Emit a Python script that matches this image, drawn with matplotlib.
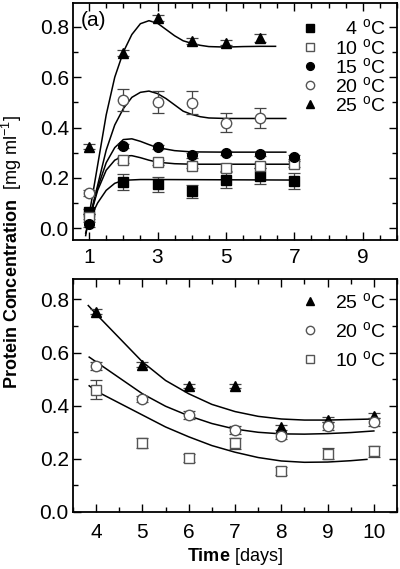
import numpy as np
import matplotlib
matplotlib.use("Agg")
import matplotlib.pyplot as plt
from matplotlib.ticker import MultipleLocator

plt.rcParams['font.family'] = ['Liberation Sans', 'DejaVu Sans']
plt.rcParams['mathtext.fontset'] = 'custom'
plt.rcParams['mathtext.rm'] = 'Liberation Sans'
plt.rcParams['mathtext.bf'] = 'Liberation Sans:bold'
plt.rcParams['mathtext.it'] = 'Liberation Sans:italic'

# ---- panel (a): data points ----
days_a = [1, 2, 3, 4, 5, 6, 7]
c4 = [0.064, 0.183, 0.175, 0.146, 0.191, 0.207, 0.188]
c4_err = [0.01, 0.032, 0.03, 0.026, 0.032, 0.031, 0.031]
c10 = [0.045, 0.27, 0.262, 0.248, 0.24, 0.247, 0.255]
c10_err = [0.01, 0.012, 0.01, 0.01, 0.015, 0.01, 0.012]
c15 = [0.016, 0.325, 0.321, 0.289, 0.299, 0.294, 0.281]
c15_err = [0.01, 0.008, 0.008, 0.01, 0.008, 0.008, 0.008]
days_a6 = [1, 2, 3, 4, 5, 6]
c20 = [0.138, 0.509, 0.502, 0.498, 0.419, 0.437]
c20_err = [0.012, 0.043, 0.044, 0.046, 0.038, 0.04]
c25 = [0.323, 0.697, 0.835, 0.745, 0.738, 0.757]
c25_err = [0.01, 0.012, 0.012, 0.012, 0.01, 0.015]

# ---- panel (a): fitted curves ----
fx25 = [0.9, 1.0, 1.25, 1.5, 1.75, 2.0, 2.25, 2.5, 2.75, 3.0, 3.25, 3.5, 3.75, 4.0, 4.25, 4.5, 5.0, 5.5, 6.0, 6.45]
fy25 = [-0.03, 0.05, 0.25, 0.45, 0.60, 0.70, 0.77, 0.813, 0.825, 0.815, 0.79, 0.765, 0.745, 0.735, 0.727, 0.722, 0.72, 0.722, 0.723, 0.723]
fx20 = [0.9, 1.0, 1.25, 1.5, 1.75, 2.0, 2.25, 2.5, 2.75, 3.0, 3.25, 3.5, 3.75, 4.0, 4.25, 4.5, 5.0, 6.0, 6.75]
fy20 = [-0.02, 0.03, 0.17, 0.31, 0.41, 0.475, 0.52, 0.54, 0.545, 0.535, 0.515, 0.49, 0.465, 0.452, 0.443, 0.438, 0.436, 0.436, 0.436]
fx15 = [0.95, 1.0, 1.25, 1.5, 1.75, 2.0, 2.25, 2.5, 2.75, 3.0, 3.5, 4.0, 5.0, 6.0, 6.75]
fy15 = [0.0, 0.03, 0.16, 0.26, 0.32, 0.352, 0.355, 0.345, 0.332, 0.32, 0.308, 0.303, 0.302, 0.302, 0.302]
fx10 = [0.95, 1.0, 1.25, 1.5, 1.75, 2.0, 2.25, 2.5, 2.75, 3.0, 3.5, 4.0, 5.0, 6.0, 6.95]
fy10 = [0.0, 0.03, 0.15, 0.23, 0.27, 0.287, 0.288, 0.28, 0.27, 0.262, 0.256, 0.254, 0.254, 0.254, 0.254]
fx4 = [0.95, 1.0, 1.25, 1.5, 1.75, 2.0, 2.5, 3.0, 5.0, 7.0]
fy4 = [0.0, 0.03, 0.10, 0.15, 0.178, 0.19, 0.193, 0.193, 0.192, 0.191]

# ---- panel (b): data points ----
days_b = [4, 5, 6, 7, 8, 9, 10]
b25 = [0.754, 0.554, 0.475, 0.475, 0.318, 0.347, 0.363]
b25_err = [0.01, 0.01, 0.008, 0.008, 0.01, 0.01, 0.01]
b20 = [0.550, 0.425, 0.365, 0.307, 0.287, 0.322, 0.338]
b20_err = [0.015, 0.012, 0.015, 0.015, 0.012, 0.015, 0.015]
b10 = [0.460, 0.259, 0.203, 0.259, 0.155, 0.219, 0.228]
b10_err = [0.036, 0.02, 0.015, 0.021, 0.015, 0.02, 0.02]

# ---- panel (b): fitted curves ----
gx25 = [3.83, 4.0, 4.5, 5.0, 5.5, 6.0, 6.5, 7.0, 7.5, 8.0, 8.5, 9.0, 9.5, 10.0, 10.1]
gy25 = [0.777, 0.745, 0.655, 0.565, 0.495, 0.445, 0.405, 0.378, 0.36, 0.35, 0.346, 0.346, 0.348, 0.35, 0.35]
gx20 = [3.85, 4.0, 4.5, 5.0, 5.5, 6.0, 6.5, 7.0, 7.5, 8.0, 8.5, 9.0, 9.5, 10.0]
gy20 = [0.583, 0.565, 0.505, 0.445, 0.398, 0.362, 0.333, 0.312, 0.300, 0.294, 0.293, 0.295, 0.299, 0.305]
gx10 = [3.85, 4.0, 4.5, 5.0, 5.5, 6.0, 6.5, 7.0, 7.5, 8.0, 8.5, 9.0, 9.5, 9.85]
gy10 = [0.475, 0.455, 0.41, 0.365, 0.32, 0.283, 0.25, 0.225, 0.205, 0.192, 0.187, 0.188, 0.193, 0.198]

deg = r'$^\mathregular{o}$C'
fs = 15      # tick labels
lfs = 14     # legend
afs = 13     # axis labels

fig = plt.figure(figsize=(4.0, 5.69), dpi=100)
ax1 = fig.add_axes([0.1825, 0.578, 0.81, 0.417])
ax2 = fig.add_axes([0.1825, 0.1002, 0.81, 0.4095])

ecol = '#444444'


def pts(ax, x, y, e, marker, fill, ms, label):
    ax.errorbar(x, y, yerr=e, fmt='none', ecolor=ecol, elinewidth=0.9, capsize=4, capthick=0.9, zorder=2)
    ax.plot(x, y, linestyle='none', marker=marker, ms=ms,
            mfc=('black' if fill else 'white'), mec=('black' if fill else '#555555'),
            mew=1.0, zorder=3, label=label)


for fx, fy in [(fx25, fy25), (fx20, fy20), (fx15, fy15), (fx10, fy10), (fx4, fy4)]:
    ax1.plot(fx, fy, color='black', lw=1.1, zorder=1)

pts(ax1, days_a, c4, c4_err, 's', True, 6.5, '  4 ' + deg)
pts(ax1, days_a, c10, c10_err, 's', False, 6.5, '10 ' + deg)
pts(ax1, days_a, c15, c15_err, 'o', True, 7, '15 ' + deg)
pts(ax1, days_a6, c20, c20_err, 'o', False, 7.5, '20 ' + deg)
pts(ax1, days_a6, c25, c25_err, '^', True, 7.5, '25 ' + deg)

for gx, gy in [(gx25, gy25), (gx20, gy20), (gx10, gy10)]:
    ax2.plot(gx, gy, color='black', lw=1.1, zorder=1)

pts(ax2, days_b, b25, b25_err, '^', True, 7.5, '25 ' + deg)
pts(ax2, days_b, b20, b20_err, 'o', False, 7.5, '20 ' + deg)
pts(ax2, days_b, b10, b10_err, 's', False, 7, '10 ' + deg)

ax1.set_xlim(0.53, 10.0)
ax1.set_ylim(-0.048, 0.896)
ax1.set_xticks([1, 3, 5, 7, 9])
ax1.xaxis.set_minor_locator(MultipleLocator(0.5))
ax1.yaxis.set_major_locator(MultipleLocator(0.2))
ax1.yaxis.set_minor_locator(MultipleLocator(0.1))

ax2.set_xlim(3.5, 10.5)
ax2.set_ylim(0.0, 0.877)
ax2.xaxis.set_major_locator(MultipleLocator(1))
ax2.xaxis.set_minor_locator(MultipleLocator(0.5))
ax2.yaxis.set_major_locator(MultipleLocator(0.2))
ax2.yaxis.set_minor_locator(MultipleLocator(0.1))

for ax in (ax1, ax2):
    ax.yaxis.set_major_formatter(matplotlib.ticker.FormatStrFormatter('%.1f'))
    ax.tick_params(which='both', direction='in', top=True, right=True, labelsize=fs, width=1.0)
    ax.tick_params(which='major', length=6)
    ax.tick_params(which='minor', length=3.5)
    ax.tick_params(axis='y', pad=3)
    for s in ax.spines.values():
        s.set_linewidth(1.3)
ax1.tick_params(axis='x', pad=6)
ax2.tick_params(axis='x', pad=8)

ax1.text(0.025, 0.965, '(a)', transform=ax1.transAxes, fontsize=fs, va='top', ha='left')

leg1 = ax1.legend(loc='upper right', frameon=False, fontsize=lfs, handlelength=1.0,
                  handletextpad=0.8, labelspacing=-0.05, borderaxespad=0.1,
                  bbox_to_anchor=(0.995, 0.975), markerscale=0.8)
leg2 = ax2.legend(loc='upper right', frameon=False, fontsize=lfs, handlelength=1.0,
                  handletextpad=0.8, labelspacing=0.45, borderaxespad=0.1,
                  bbox_to_anchor=(0.995, 0.985), markerscale=0.8)

ax2.set_xlabel(r'$\mathbf{Time}$ [days]', fontsize=afs, labelpad=3)
fig.text(0.03, 0.557, r'$\mathbf{Protein\ Concentration}$  [mg ml$^{-1}$]',
         rotation=90, fontsize=afs, ha='center', va='center')

fig.savefig('out.png', dpi=100)
